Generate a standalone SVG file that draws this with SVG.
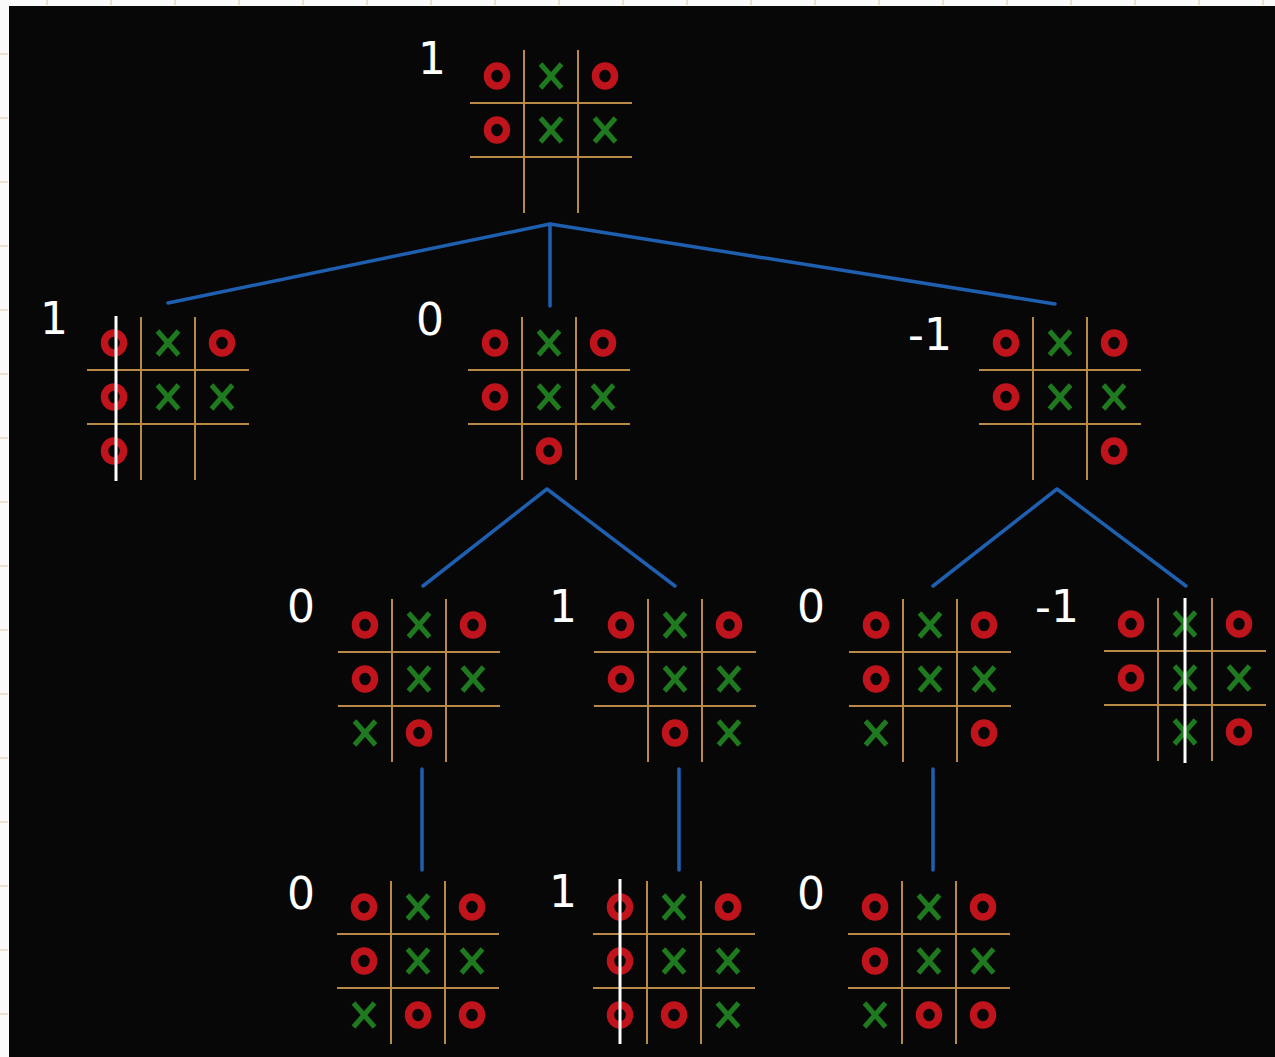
<svg xmlns="http://www.w3.org/2000/svg" xmlns:xlink="http://www.w3.org/1999/xlink" width="1275" height="1057" viewBox="0 0 1275 1057">
<style>
.grid{stroke:#b98a45;stroke-width:2;fill:none}
.o{fill:none;stroke:#c0141c;stroke-width:7.5}
.x{stroke:#1f7a1f;stroke-width:5;stroke-linecap:butt}
.win{stroke:#ffffff;stroke-width:3}
.edge{stroke:#1f5fb0;stroke-width:3.5;fill:none;stroke-linecap:round;stroke-linejoin:round}
.lbl{font-family:"DejaVu Sans",sans-serif;font-size:44px;fill:#ffffff;text-anchor:middle}
.tick{stroke:#d8c4a8;stroke-width:1}
</style>
<defs>
<g id="grid">
<line class="grid" x1="54" y1="0" x2="54" y2="163"/>
<line class="grid" x1="108" y1="0" x2="108" y2="163"/>
<line class="grid" x1="0" y1="53" x2="162" y2="53"/>
<line class="grid" x1="0" y1="107" x2="162" y2="107"/>
</g>
<ellipse id="O" class="o" cx="0" cy="0" rx="9.5" ry="10"/>
<g id="X"><line class="x" x1="-10.5" y1="-12" x2="10.5" y2="12"/><line class="x" x1="10.5" y1="-12" x2="-10.5" y2="12"/></g>
<g id="base">
<use xlink:href="#grid"/>
<use xlink:href="#O" x="27" y="26"/>
<use xlink:href="#X" x="81" y="26"/>
<use xlink:href="#O" x="135" y="26"/>
<use xlink:href="#O" x="27" y="80"/>
<use xlink:href="#X" x="81" y="80"/>
<use xlink:href="#X" x="135" y="80"/>
</g>
</defs>
<rect x="0" y="0" width="1275" height="1057" fill="#fafafa"/>
<g id="ticks">
<line class="tick" x1="47" y1="0" x2="47" y2="5"/><line class="tick" x1="111" y1="0" x2="111" y2="5"/><line class="tick" x1="175" y1="0" x2="175" y2="5"/><line class="tick" x1="239" y1="0" x2="239" y2="5"/><line class="tick" x1="303" y1="0" x2="303" y2="5"/><line class="tick" x1="367" y1="0" x2="367" y2="5"/><line class="tick" x1="431" y1="0" x2="431" y2="5"/><line class="tick" x1="495" y1="0" x2="495" y2="5"/><line class="tick" x1="559" y1="0" x2="559" y2="5"/><line class="tick" x1="623" y1="0" x2="623" y2="5"/><line class="tick" x1="687" y1="0" x2="687" y2="5"/><line class="tick" x1="751" y1="0" x2="751" y2="5"/><line class="tick" x1="815" y1="0" x2="815" y2="5"/><line class="tick" x1="879" y1="0" x2="879" y2="5"/><line class="tick" x1="943" y1="0" x2="943" y2="5"/><line class="tick" x1="1007" y1="0" x2="1007" y2="5"/><line class="tick" x1="1071" y1="0" x2="1071" y2="5"/><line class="tick" x1="1135" y1="0" x2="1135" y2="5"/><line class="tick" x1="1199" y1="0" x2="1199" y2="5"/><line class="tick" x1="1263" y1="0" x2="1263" y2="5"/>
<line class="tick" x1="0" y1="54" x2="8" y2="54"/><line class="tick" x1="0" y1="118" x2="8" y2="118"/><line class="tick" x1="0" y1="182" x2="8" y2="182"/><line class="tick" x1="0" y1="246" x2="8" y2="246"/><line class="tick" x1="0" y1="310" x2="8" y2="310"/><line class="tick" x1="0" y1="374" x2="8" y2="374"/><line class="tick" x1="0" y1="438" x2="8" y2="438"/><line class="tick" x1="0" y1="502" x2="8" y2="502"/><line class="tick" x1="0" y1="566" x2="8" y2="566"/><line class="tick" x1="0" y1="630" x2="8" y2="630"/><line class="tick" x1="0" y1="694" x2="8" y2="694"/><line class="tick" x1="0" y1="758" x2="8" y2="758"/><line class="tick" x1="0" y1="822" x2="8" y2="822"/><line class="tick" x1="0" y1="886" x2="8" y2="886"/><line class="tick" x1="0" y1="950" x2="8" y2="950"/><line class="tick" x1="0" y1="1014" x2="8" y2="1014"/>
</g>
<rect x="9" y="6" width="1266" height="1051" fill="#070707"/>

<g id="connectors">
<polyline class="edge" points="168,303 550,224 1055,304"/>
<line class="edge" x1="550" y1="224" x2="550" y2="306"/>
<polyline class="edge" points="423,586 547,489 675,586"/>
<polyline class="edge" points="933,586 1057,489 1186,586"/>
<line class="edge" x1="422" y1="769" x2="422" y2="870"/>
<line class="edge" x1="679" y1="769" x2="679" y2="870"/>
<line class="edge" x1="933" y1="769" x2="933" y2="870"/>
</g>

<g id="root">
<use xlink:href="#base" x="470" y="50"/>
<text class="lbl" x="432" y="74">1</text>
</g>
<g id="n1-left">
<g transform="translate(87,317)">
<use xlink:href="#base"/>
<use xlink:href="#O" x="27" y="134"/>
<line class="win" x1="29" y1="-1" x2="29" y2="164"/>
</g>
<text class="lbl" x="54" y="334">1</text>
</g>
<g id="n1-mid">
<g transform="translate(468,317)">
<use xlink:href="#base"/>
<use xlink:href="#O" x="81" y="134"/>
</g>
<text class="lbl" x="430" y="335">0</text>
</g>
<g id="n1-right">
<g transform="translate(979,317)">
<use xlink:href="#base"/>
<use xlink:href="#O" x="135" y="134"/>
</g>
<text class="lbl" x="930" y="350">-1</text>
</g>
<g id="n2-a">
<g transform="translate(338,599)">
<use xlink:href="#base"/>
<use xlink:href="#X" x="27" y="134"/>
<use xlink:href="#O" x="81" y="134"/>
</g>
<text class="lbl" x="301" y="622">0</text>
</g>
<g id="n2-b">
<g transform="translate(594,599)">
<use xlink:href="#base"/>
<use xlink:href="#O" x="81" y="134"/>
<use xlink:href="#X" x="135" y="134"/>
</g>
<text class="lbl" x="563" y="622">1</text>
</g>
<g id="n2-c">
<g transform="translate(849,599)">
<use xlink:href="#base"/>
<use xlink:href="#X" x="27" y="134"/>
<use xlink:href="#O" x="135" y="134"/>
</g>
<text class="lbl" x="811" y="622">0</text>
</g>
<g id="n2-d">
<g transform="translate(1104,598)">
<use xlink:href="#base"/>
<use xlink:href="#X" x="81" y="134"/>
<use xlink:href="#O" x="135" y="134"/>
<line class="win" x1="81" y1="0" x2="81" y2="165"/>
</g>
<text class="lbl" x="1057" y="622">-1</text>
</g>
<g id="n3-e">
<g transform="translate(337,881)">
<use xlink:href="#base"/>
<use xlink:href="#X" x="27" y="134"/>
<use xlink:href="#O" x="81" y="134"/>
<use xlink:href="#O" x="135" y="134"/>
</g>
<text class="lbl" x="301" y="909">0</text>
</g>
<g id="n3-f">
<g transform="translate(593,881)">
<use xlink:href="#base"/>
<use xlink:href="#O" x="27" y="134"/>
<use xlink:href="#O" x="81" y="134"/>
<use xlink:href="#X" x="135" y="134"/>
<line class="win" x1="27" y1="-2" x2="27" y2="163"/>
</g>
<text class="lbl" x="563" y="907">1</text>
</g>
<g id="n3-g">
<g transform="translate(848,881)">
<use xlink:href="#base"/>
<use xlink:href="#X" x="27" y="134"/>
<use xlink:href="#O" x="81" y="134"/>
<use xlink:href="#O" x="135" y="134"/>
</g>
<text class="lbl" x="811" y="909">0</text>
</g>
</svg>
